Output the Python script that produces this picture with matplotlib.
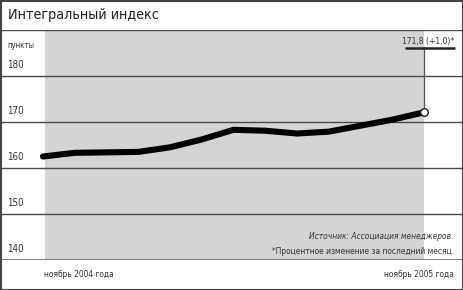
import matplotlib
matplotlib.use("Agg")
import matplotlib.pyplot as plt
from matplotlib.patches import Rectangle

FAM = ["DejaVu Sans"]
ST = "condensed"

# data
months = list(range(13))  # Nov 2004 .. Nov 2005
values = [162.5, 163.3, 163.4, 163.5, 164.5, 166.2, 168.3, 168.1, 167.5, 167.9, 169.2, 170.5, 172.1]
yticks = [140, 150, 160, 170, 180]
title = "Интегральный индекс"
unit = "пункты"
x_left_label = "ноябрь 2004 года"
x_right_label = "ноябрь 2005 года"
last_label = "171,8 (+1,0)*"
source = "Источник: Ассоциация менеджеров."
note = "*Процентное изменение за последний месяц."

W, H = 464, 290
fig = plt.figure(figsize=(W / 100, H / 100), dpi=100)
fig.patch.set_facecolor("white")

ax = fig.add_axes([0, (H - 260) / H, 1, 230 / H])
px_per = (424 - 43) / 12
x0 = -43 / px_per
x1 = 12 + (W - 424) / px_per
ax.set_xlim(x0, x1)
ax.set_ylim(140, 190)
ax.axis("off")

ax.axvspan(2 / px_per, 12, color="#d3d4d6", zorder=0, lw=0)

xl = 7 / W * (x1 - x0) + x0
for v in yticks[1:]:
    ax.axhline(v, color="#4a4a4a", lw=1.0, zorder=1)
for v in yticks:
    ax.text(xl, v + 1.2, str(v), fontsize=7.0, family=FAM, fontstretch=ST,
            color="#333333", va="bottom", ha="left")
ax.axhline(140, color="#6e6e6e", lw=2.0, zorder=3)
ax.axhline(190, color="#4a4a4a", lw=1.0, zorder=3)

ax.plot(months, values, color="black", lw=4.4, solid_capstyle="round",
        solid_joinstyle="round", zorder=4)

ax.plot([months[-1], months[-1]], [values[-1], 186.2], color="#555555", lw=0.9, zorder=3)
ax.plot([months[-1]], [values[-1]], "o", ms=5.5, mfc="white", mec="#222222", mew=1.0, zorder=5)
ax.plot([months[-1] - 19 / px_per, months[-1] + 31 / px_per], [186.1, 186.1],
        color="#222222", lw=1.8, zorder=5, solid_capstyle="butt")
ax.text(months[-1] + 30 / px_per, 186.6, last_label, fontsize=6.1, family=FAM, fontstretch=ST,
        color="#333333", ha="right", va="bottom", zorder=5)

def ftext(x, y, s, **kw):
    fig.text(x / W, 1 - y / H, s, family=FAM, fontstretch=ST, **kw)

ftext(8, 15.5, title, fontsize=10.3, color="#222222", va="center", ha="left")
ftext(7, 45, unit, fontsize=5.6, color="#333333", va="center", ha="left")
ftext(44, 274, x_left_label, fontsize=6.0, color="#333333", va="center", ha="left")
ftext(454, 274, x_right_label, fontsize=6.0, color="#333333", va="center", ha="right")
ftext(454, 236.5, source, fontsize=6.0, color="#333333", va="center", ha="right", style="italic")
ftext(454, 251.5, note, fontsize=6.0, color="#333333", va="center", ha="right")

fig.patches.append(Rectangle((0.5 / W, 0.5 / H), 1 - 1.5 / W, 1 - 1.5 / H, transform=fig.transFigure,
                             fill=False, ec="#444444", lw=1.5))

fig.savefig("out.png", dpi=100)
